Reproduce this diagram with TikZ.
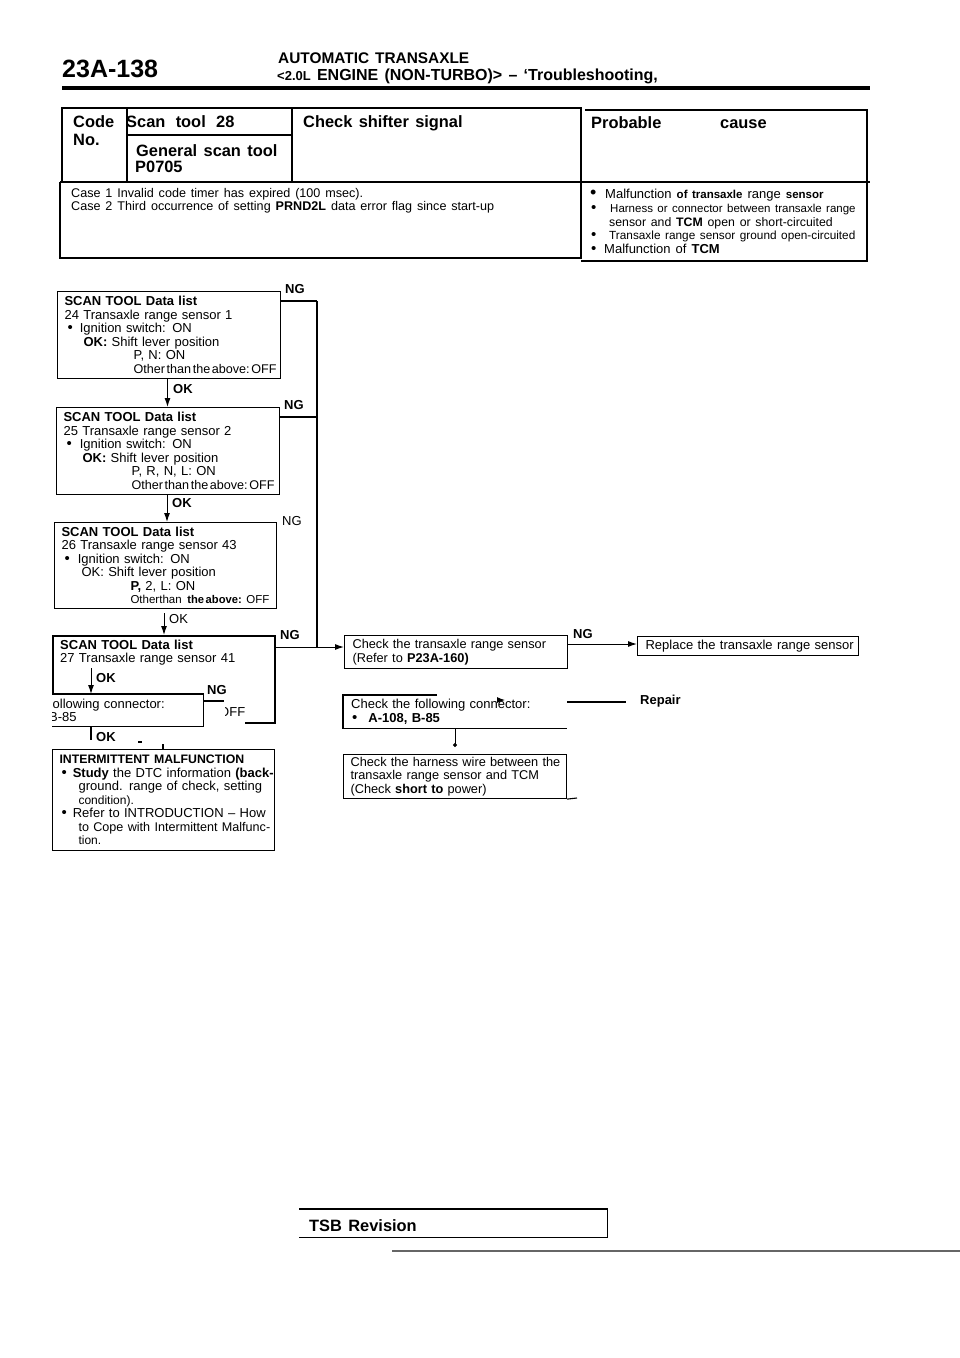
\documentclass[tikz,border=0pt]{standalone}
\usepackage{fontspec}
\setmainfont[WordSpace=1.4]{Liberation Sans}
\usetikzlibrary{arrows.meta}
\newcommand{\ind}[1]{\hspace*{#1pt}}
\newcommand{\fsz}[1]{\fontsize{#1}{#1}\selectfont}
\newcommand{\thinsp}{\frenchspacing\spaceskip=1.6pt\relax}
\newcommand{\dotb}{{\fsz{15}\textbullet}}
\begin{document}
\begin{tikzpicture}[
x=1pt,y=-1pt,
txt/.style = {anchor=base west,inner sep=0pt,font=\fsz{13}},
hd/.style = {anchor=base west,inner sep=0pt,font=\fsz{16.4}\bfseries},
ngl/.style = {anchor=base west,inner sep=0pt,font=\fsz{13}\bfseries},
flow/.style 2 args = {anchor=north west,inner xsep=7pt,inner ysep=0pt,align=left,
  font=\fontsize{13}{13.5}\selectfont,minimum width=#1,minimum height=#2,text width=#1-14pt},
box/.style = {flow={#1},draw,line width=1.1pt},
lin/.style = {draw,line width=1.1pt},
arr/.style = {draw,line width=1pt,-{Latex[length=9pt,width=6pt]}}
]
\useasboundingbox (0,0) rectangle (960,1358);
% page head
\node[anchor=base west,inner sep=0pt,font=\fsz{25}\bfseries] (pageno) at (62,77) {23A-138};
\node[anchor=base west,inner sep=0pt,font=\fsz{15.4}\bfseries] (title1) at (278,63) {AUTOMATIC TRANSAXLE};
\node[anchor=base west,inner sep=0pt,font=\fsz{16}\bfseries] (title2) at (277,80) {{\fsz{13}<2.0L} ENGINE (NON-TURBO)> -- ‘Troubleshooting,};
\draw[line width=4pt] (62,88) -- (870,88);
% code table
\draw[lin] (60,182) -- (60,258) -- (582,258);
\draw[lin] (62,182) -- (62,108) -- (581,108) -- (581,259);
\draw[lin] (127,108) -- (127,182);
\draw[lin] (292,108) -- (292,182);
\draw[lin] (127,135) -- (292,135);
\draw[lin] (60,182) -- (870,182);
\draw[lin] (585,110) -- (867,110) -- (867,261) -- (581,261);
\node[hd] (code) at (73,127) {Code};
\node[hd] (no) at (73,145) {No.};
\node[hd] (scan) at (126,127) {Scan\hspace{4pt} tool\hspace{4pt} 28};
\node[hd] (gen) at (136,156) {General scan tool};
\node[hd] (pcode) at (135,172) {P0705};
\node[hd] (chk) at (303,127) {Check shifter signal};
\node[hd] (prob) at (591,128) {Probable};
\node[hd] (cause) at (720,128) {cause};
\node[txt,font=\fsz{12.6}] (case1) at (71,197) {Case 1 Invalid code timer has expired (100 msec).};
\node[txt,font=\fsz{12.6}] (case2) at (71,210) {Case 2 Third occurrence of setting \textbf{PRND2L} data error flag since start-up};
\node[txt] (c1) at (590,198) {\makebox[15pt][l]{\fsz{18}\textbullet}Malfunction {\fsz{11.5}\bfseries of transaxle} range {\fsz{11.5}\bfseries sensor}};
\node[txt,font=\fsz{11.5}] (c2) at (591,212.5) {\makebox[19pt][l]{\dotb}Harness or connector between transaxle range};
\node[txt,font=\fsz{12.3}] (c3) at (609,226) {sensor and \textbf{TCM} open or short-circuited};
\node[txt,font=\fsz{11.8}] (c4) at (591,239) {\makebox[18pt][l]{\dotb}Transaxle range sensor ground open-circuited};
\node[txt] (c5) at (591,253) {\makebox[13pt][l]{\dotb}Malfunction of \textbf{TCM}};
% flow left column
\node[box={223}{87}] (b24) at (57,291) {\textbf{SCAN TOOL Data list}\\
24 Transaxle range sensor 1\\
\ind{3}\dotb\ind{7}Ignition switch: ON\\
\ind{19}\textbf{OK:} Shift lever position\\
\ind{69}P, N: ON\\
\ind{69}\mbox{\thinsp\fsz{12.6}Other than the above: OFF}};
\node[box={223}{87}] (b25) at (56,407) {\textbf{SCAN TOOL Data list}\\
25 Transaxle range sensor 2\\
\ind{3}\dotb\ind{8}Ignition switch: ON\\
\ind{19}\textbf{OK:} Shift lever position\\
\ind{68}P, R, N, L: ON\\
\ind{68}\mbox{\thinsp\fsz{12.6}Other than the above: OFF}};
\node[box={222}{86}] (b26) at (54,522) {\textbf{SCAN TOOL Data list}\\
26 Transaxle range sensor 43\\
\ind{3}\dotb\ind{8}Ignition switch: ON\\
\ind{20}OK: Shift lever position\\
\ind{69}\textbf{P,} 2, L: ON\\
\ind{69}\mbox{\thinsp{\fsz{11.5}Otherthan}\hspace{4pt} {\fsz{11.2}\bfseries the above:}\hspace{3pt} {\fsz{11.5}OFF}}};
% box 27 is partly covered by the next one
\coordinate (b27nw) at (53,636);
\coordinate (b27ne) at (275,636);
\coordinate (b27se) at (275,723);
\node[flow={222}{33}] (b27) at (b27nw) {\textbf{SCAN TOOL Data list}\\27 Transaxle range sensor 41};
\draw[lin] (53,694) -- (b27nw) -- (b27ne) -- (b27se) -- (245,723);
\node[flow={151}{32},fill=white,inner xsep=0pt,text width=150pt] (b28) at (52,694) {ollowing connector:\\\phantom{B-85}};
\draw[lin] (b28.north west) -- (b28.north east) -- (b28.south east) -- (b28.south west);
\begin{scope}
  \clip (52,708) rectangle (203,726);
  \node[txt] (b28b) at (49,721) {B-85};
\end{scope}
\begin{scope}
  \clip (225,704) rectangle (250,720);
  \node[txt] (off) at (219,716.5) {OFF};
\end{scope}
\node[box={222}{101}] (b29) at (52,749) {{\fsz{12.3}\bfseries INTERMITTENT MALFUNCTION}\\
\ind{2}\dotb\ind{6}\mbox{\textbf{Study} the DTC information \textbf{(back-}}\\
\ind{19}\mbox{ground. range of check, setting}\\
\ind{19}{\fsz{12}condition).}\\
\ind{2}\dotb\ind{6}\mbox{Refer to INTRODUCTION -- How}\\
\ind{19}\mbox{\fsz{12.6}to Cope with Intermittent Malfunc-}\\
\ind{19}{\fsz{12}tion.}};
% right column
\node[box={223}{33},font=\fontsize{12.75}{13.8}\selectfont] (bcheck) at (344,635) {\ind{1}Check the transaxle range sensor\\\ind{1}(Refer to \textbf{P23A-160)}};
\node[box={221}{19}] (brepl) at (637,636) {\ind{1}\mbox{Replace the transaxle range sensor}};
\node[flow={224}{33}] (bconn) at (343,695) {\ind{1}Check the following connector:\\\ind{2}\dotb\ind{11}\textbf{A-108, B-85}};
\draw[lin] (437,695) -- (bconn.north west) -- (bconn.south west) -- (bconn.south east);
\node[box={223}{44},font=\fontsize{12.75}{13.5}\selectfont] (bharn) at (343,754) {\mbox{Check the harness wire between the}\\transaxle range sensor and TCM\\(Check \textbf{short to} power)};
\draw[lin] (bharn.south east) -- (577,798);
\node[ngl] (repair) at (640,704) {Repair};
\coordinate (rep) at (626,702);
% connectors
\coordinate (bus24) at (317,301);
\coordinate (bus25) at (317,417);
\coordinate (bus27) at (317,647);
\draw[lin] (b24.east |- bus24) -- (bus24);
\draw[lin] (b25.east |- bus25) -- (bus25);
\draw[line width=1.5pt] (bus24) -- (bus27);
\draw[arr] (b27se |- bus27) -- (bcheck.west |- bus27);
\draw[arr] (bcheck.east |- 0,644) -- (brepl.west |- 0,644);
\draw[lin] (bconn.east |- rep) -- (rep);
\draw[arr] (167.5,378) -- (167.5,407);
\draw[arr] (167,494) -- (167,522);
\draw[arr] (164,613) -- (164,635);
\draw[arr] (91,668) -- (91,694);
\draw[lin] (91,726) -- (91,740);
\draw[lin] (b28.east |- 0,701) -- (224,701);
\draw[line width=1pt,-{Circle[length=4pt]}] (bconn.south -| 455,728) -- (455,747);
\draw[-{Latex[length=8pt,width=6pt]},line width=1pt] (497,700) -- (505,700);
\draw[line width=1.3pt] (138,742) -- (142,742);
\draw[line width=1.1pt] (163,744) -- (163,749);
\node[ngl] (ok24) at (173,393) {OK};
\node[ngl] (ok25) at (172,507) {OK};
\node[txt] (ok26) at (169,623) {OK};
\node[ngl] (ok27) at (96,682) {OK};
\node[ngl] (ok28) at (96,741) {OK};
\node[ngl] (ng24) at (285,293) {NG};
\node[ngl] (ng25) at (284,409) {NG};
\node[txt] (ng26) at (282,525) {NG};
\node[ngl] (ng27) at (280,639) {NG};
\node[ngl] (ng28) at (207,694) {NG};
\node[ngl] (ngchk) at (573,638) {NG};
% revision box
\node[anchor=north west,minimum width=308pt,minimum height=28pt,inner sep=0pt] (tsb) at (299,1209) {};
\draw[lin] (tsb.north west) -- (tsb.north east) -- (tsb.south east) -- (tsb.south west);
\node[hd] (tsbtxt) at (309,1231) {TSB Revision};
\draw[line width=2pt,black!60] (392,1251) -- (960,1251);
\end{tikzpicture}
\end{document}
